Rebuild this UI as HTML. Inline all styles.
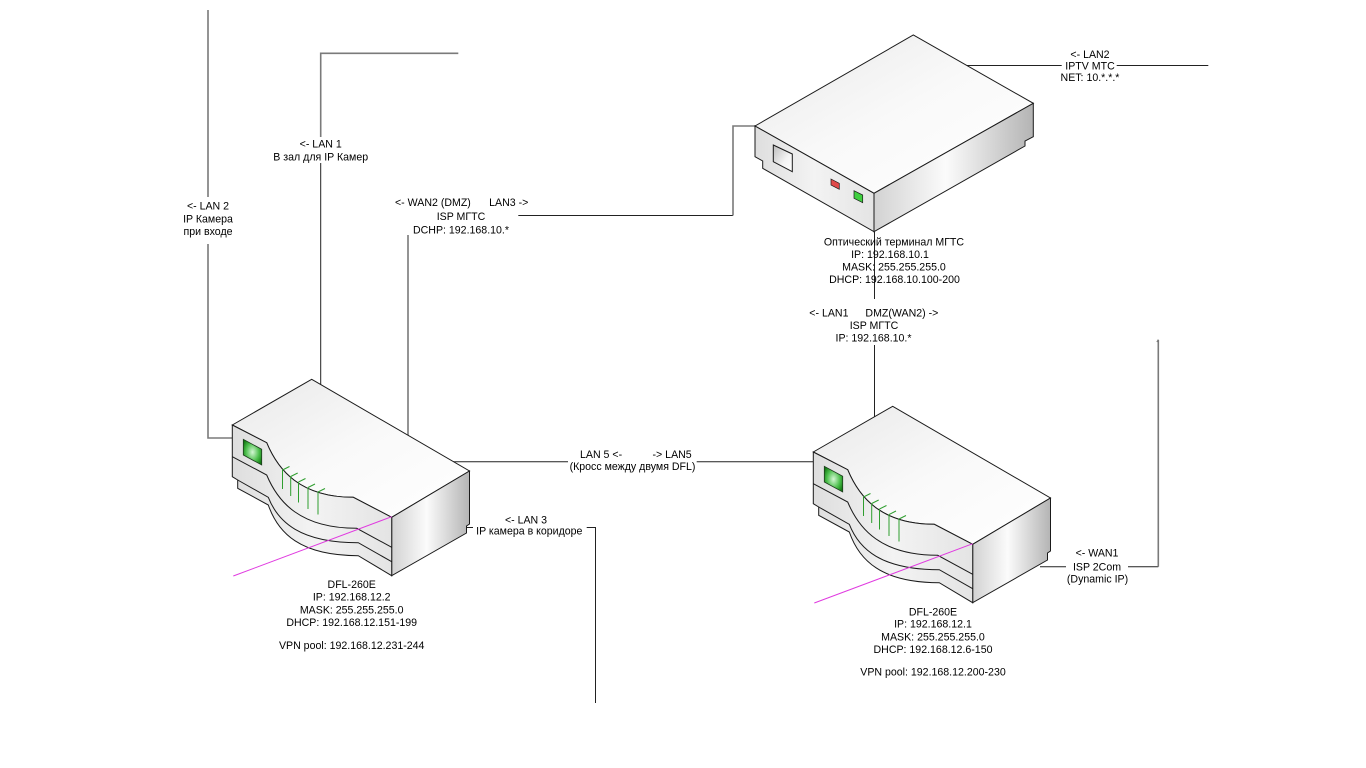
<!DOCTYPE html>
<html>
<head>
<meta charset="utf-8">
<style>
html,body{margin:0;padding:0;background:#fff;}
svg{display:block;}
text{font-family:"Liberation Sans","Noto Sans CJK SC",sans-serif;font-size:10.6px;fill:#000;}
</style>
</head>
<body>
<svg width="1366" height="768" viewBox="0 0 1366 768" xmlns="http://www.w3.org/2000/svg">
<defs>
  <linearGradient id="topG" x1="0" y1="0" x2="1" y2="1">
    <stop offset="0" stop-color="#e9e9e9"/>
    <stop offset="0.5" stop-color="#f9f9f9"/>
    <stop offset="1" stop-color="#ffffff"/>
  </linearGradient>
  <linearGradient id="frontG" x1="0" y1="0" x2="1" y2="0">
    <stop offset="0" stop-color="#dedede"/>
    <stop offset="0.5" stop-color="#f3f3f3"/>
    <stop offset="1" stop-color="#e4e4e4"/>
  </linearGradient>
  <linearGradient id="rightG" x1="0" y1="0" x2="1" y2="0">
    <stop offset="0" stop-color="#d2d2d2"/>
    <stop offset="0.45" stop-color="#fbfbfb"/>
    <stop offset="1" stop-color="#b4b4b4"/>
  </linearGradient>
  <radialGradient id="ledG" cx="0.5" cy="0.5" r="0.6">
    <stop offset="0" stop-color="#d4f7d4"/>
    <stop offset="0.6" stop-color="#4cbf4c"/>
    <stop offset="1" stop-color="#137a13"/>
  </radialGradient>
  <linearGradient id="portG" x1="0" y1="0" x2="1" y2="1">
    <stop offset="0" stop-color="#bdbdbd"/>
    <stop offset="0.6" stop-color="#f4f4f4"/>
    <stop offset="1" stop-color="#ffffff"/>
  </linearGradient>
  <g id="dfl">
    <!-- top face -->
    <path d="M232.3,425 L311.7,379.3 L469.5,471 L391.7,517.3 L353.3,497.3 C300,497.3 278,470 266.7,442.7 Z" fill="url(#topG)" stroke="#1a1a1a" stroke-width="1"/>
    <!-- right face -->
    <path d="M391.7,517.3 L469.5,471 L469.5,524 L466.5,526 L466.5,533 L391.7,575.7 Z" fill="url(#rightG)" stroke="#1a1a1a" stroke-width="1"/>
    <!-- front face -->
    <path d="M232.3,425 L266.7,442.7 C278,470 300,497.3 353.3,497.3 L391.7,517.3 L391.7,575.7 L358.3,555.7 C300,555.7 278,533 268.3,505 L237.7,488.3 L237.7,480 L232.3,476.7 Z" fill="url(#frontG)" stroke="#1a1a1a" stroke-width="1"/>
    <!-- stripes -->
    <path d="M232.3,456.7 L266.7,475 C278,502 300,528.3 356.7,528.3 L391.7,547.3" fill="none" stroke="#1a1a1a" stroke-width="1"/>
    <path d="M237.7,480 L268.3,497.3 C278,522 300,542.7 358.3,542.7 L391.7,561.7" fill="none" stroke="#1a1a1a" stroke-width="1"/>
    <!-- LED -->
    <path d="M243.3,439.3 L261.7,449.3 L261.7,465 L243.3,455 Z" fill="url(#ledG)" stroke="#1d3a1d" stroke-width="0.8"/>
    <!-- ticks -->
    <g stroke="#2f9e2f" stroke-width="1" fill="none">
      <path d="M282.5,470 L282.5,489 M282.5,470 L289.5,466.5"/>
      <path d="M290.7,476.5 L290.7,496 M290.7,476.5 L297.7,473"/>
      <path d="M298.5,482 L298.5,502.5 M298.5,482 L305.5,478.5"/>
      <path d="M308,487.5 L308,509 M308,487.5 L315,484"/>
      <path d="M318,492 L318,514.5 M318,492 L325,488.5"/>
    </g>
    <!-- pink line -->
    <line x1="233.3" y1="576" x2="391.7" y2="516.7" stroke="#e03ae0" stroke-width="1"/>
  </g>
</defs>

<!-- ===== connectors ===== -->
<g fill="none">
  <!-- LAN2 left -->
  <path d="M208,10 L208,197" stroke="#7a7a7a" stroke-width="1.6"/>
  <path d="M208,244 L208,438 L233,438" stroke="#7a7a7a" stroke-width="1.6"/>
  <!-- LAN1 -->
  <path d="M458.3,53.3 L320.7,53.3 L320.7,137" stroke="#7a7a7a" stroke-width="1.6"/>
  <path d="M320.7,163 L320.7,386" stroke="#222" stroke-width="1"/>
  <!-- WAN2 -->
  <path d="M408,235 L408,436" stroke="#7a7a7a" stroke-width="1.6"/>
  <!-- LAN3 -> optical -->
  <path d="M518.3,215.5 L733,215.5" stroke="#222" stroke-width="1"/>
  <path d="M733,215.5 L733,126 L756,126" stroke="#7a7a7a" stroke-width="1.6"/>
  <!-- LAN2 IPTV -->
  <path d="M966.7,65.5 L1061.7,65.5 M1116.7,65.5 L1208.3,65.5" stroke="#222" stroke-width="1"/>
  <!-- optical to right DFL -->
  <path d="M874.5,231.7 L874.5,299" stroke="#222" stroke-width="1"/>
  <path d="M874.5,345 L874.5,418" stroke="#222" stroke-width="1"/>
  <!-- LAN5 -->
  <path d="M453,461.7 L568,461.7 M696.7,461.7 L814,461.7" stroke="#222" stroke-width="1"/>
  <!-- LAN3 corridor -->
  <path d="M466.5,527.5 L473,527.5 M586.7,527.5 L595.5,527.5 L595.5,703" stroke="#222" stroke-width="1"/>
  <!-- WAN1 -->
  <path d="M1040,566.7 L1066,566.7 M1128,566.7 L1158.3,566.7" stroke="#222" stroke-width="1"/>
  <path d="M1158.3,566.7 L1158.3,340" stroke="#7a7a7a" stroke-width="1.6"/>
  <path d="M1156.8,342 L1158.3,339.5" stroke="#7a7a7a" stroke-width="1"/>
</g>

<!-- ===== optical terminal ===== -->
<g stroke="#1a1a1a" stroke-width="1">
  <path d="M755,126 L913.3,35 L1033.3,103.3 L874,193.3 Z" fill="url(#topG)"/>
  <path d="M755,126 L874,193.3 L874,231.7 L762.7,168.3 L762.7,161 L755,156.7 Z" fill="url(#frontG)"/>
  <path d="M874,193.3 L1033.3,103.3 L1033.3,136.7 L1025,141 L1025,146 L874,231.7 Z" fill="url(#rightG)"/>
  <path d="M773.3,145 L792.3,154 L792.3,171.7 L773.3,161.7 Z" fill="url(#portG)"/>
  <path d="M831,179 L839.3,183.3 L839.3,189.3 L831,185 Z" fill="#e04a4a" stroke-width="0.7"/>
  <path d="M854,190.7 L862.7,195 L862.7,202.7 L854,198.3 Z" fill="#3fcf3f" stroke-width="0.7"/>
</g>

<!-- ===== DFL devices ===== -->
<use href="#dfl"/>
<use href="#dfl" transform="translate(581,27)"/>

<!-- ===== labels ===== -->
<g text-anchor="middle">
  <text x="208" y="209.5">&lt;- LAN 2</text>
  <text x="208" y="222.5">IP Камера</text>
  <text x="208" y="235">при входе</text>

  <text x="320.7" y="147.3">&lt;- LAN 1</text>
  <text x="320.7" y="160.5">В зал для IP Камер</text>

  <text x="461" y="220">ISP МГТС</text>
  <text x="461" y="233.5">DCHP: 192.168.10.*</text>

  <text x="894" y="245.5">Оптический терминал МГТС</text>
  <text x="890" y="258">IP: 192.168.10.1</text>
  <text x="894" y="270.5">MASK: 255.255.255.0</text>
  <text x="894.5" y="283">DHCP: 192.168.10.100-200</text>

  <text x="874" y="329">ISP МГТС</text>
  <text x="873.5" y="341.5">IP: 192.168.10.*</text>

  <text x="1090" y="58">&lt;- LAN2</text>
  <text x="1090" y="69.5">IPTV МТС</text>
  <text x="1090" y="81">NET: 10.*.*.*</text>

  <text x="632.5" y="470">(Кросс между двумя DFL)</text>

  <text x="526" y="523.3">&lt;- LAN 3</text>
  <text x="529.3" y="534.7">IP камера в коридоре</text>

  <text x="1097" y="556.5">&lt;- WAN1</text>
  <text x="1097" y="570.5">ISP 2Com</text>
  <text x="1097.5" y="582.3">(Dynamic IP)</text>

  <text x="351.7" y="588">DFL-260E</text>
  <text x="351.7" y="600.7">IP: 192.168.12.2</text>
  <text x="351.7" y="613.5">MASK: 255.255.255.0</text>
  <text x="351.7" y="626">DHCP: 192.168.12.151-199</text>
  <text x="351.7" y="649">VPN pool: 192.168.12.231-244</text>

  <text x="933" y="615.5">DFL-260E</text>
  <text x="933" y="627.7">IP: 192.168.12.1</text>
  <text x="933" y="640.5">MASK: 255.255.255.0</text>
  <text x="933" y="653">DHCP: 192.168.12.6-150</text>
  <text x="933" y="675.7">VPN pool: 192.168.12.200-230</text>
</g>
<g>
  <text x="395" y="206">&lt;- WAN2 (DMZ)</text>
  <text x="528.3" y="206" text-anchor="end">LAN3 -&gt;</text>
  <text x="809.3" y="316.3">&lt;- LAN1</text>
  <text x="938.3" y="316.3" text-anchor="end">DMZ(WAN2) -&gt;</text>
  <text x="580" y="458">LAN 5 &lt;-</text>
  <text x="691.7" y="458" text-anchor="end">-&gt; LAN5</text>
</g>
</svg>
</body>
</html>
